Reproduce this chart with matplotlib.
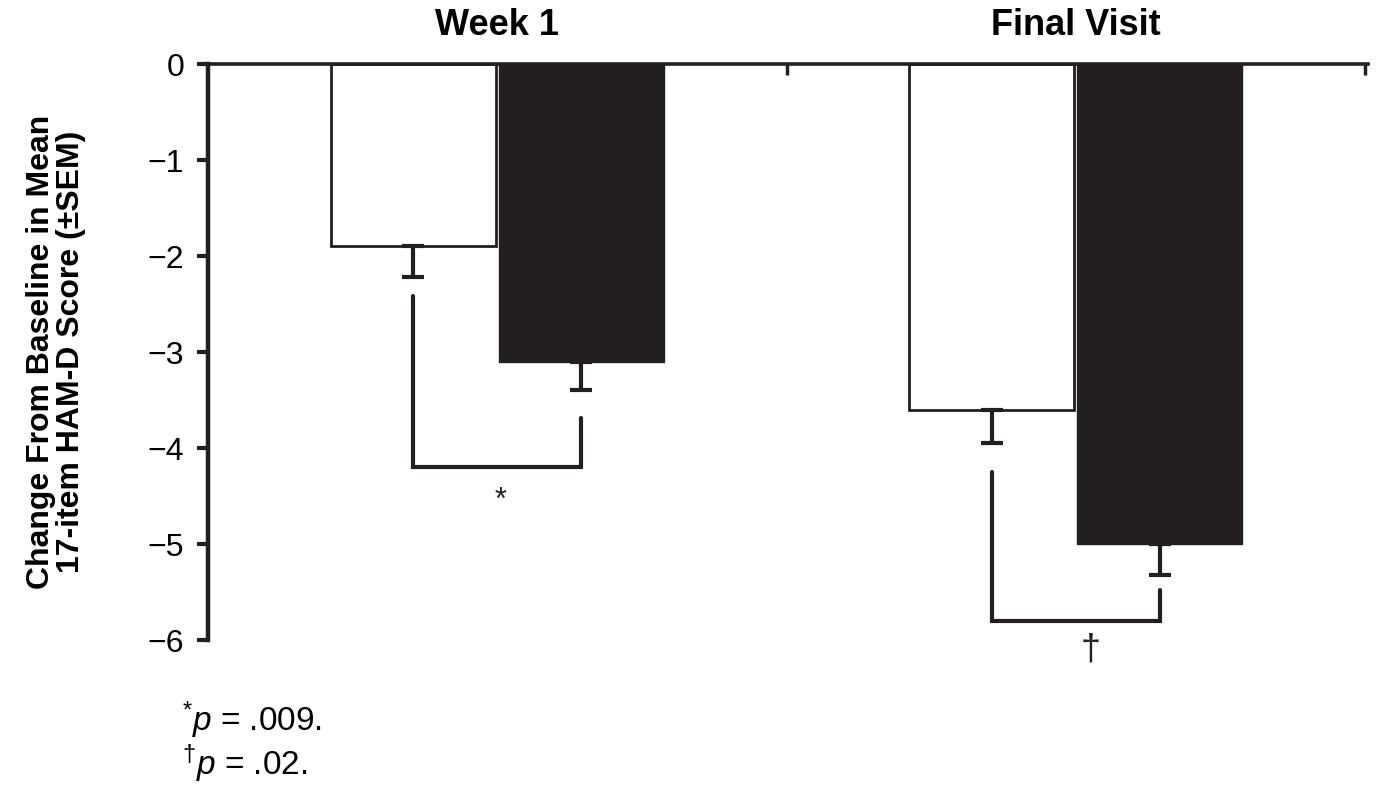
import matplotlib
matplotlib.use("Agg")
import matplotlib.pyplot as plt

plt.rcParams['font.family'] = ['Liberation Sans', 'DejaVu Sans']
plt.rcParams['mathtext.fontset'] = 'custom'
plt.rcParams['mathtext.rm'] = 'Liberation Sans'
plt.rcParams['mathtext.it'] = 'Liberation Sans:italic'
plt.rcParams['mathtext.sf'] = 'Liberation Sans'

# data
groups = ['Week 1', 'Final Visit']
placebo_mean = [-1.9, -3.6]
placebo_sem = [0.32, 0.35]
drug_mean = [-3.1, -5.0]
drug_sem = [0.30, 0.32]
bracket_left_top = [-2.42, -4.25]
bracket_right_top = [-3.69, -5.48]
bracket_bottom = [-4.2, -5.8]
sig_marks = ['*', '\u2020']

ink = '#231f20'
fig = plt.figure(figsize=(13.83, 7.92), dpi=100)
ax = fig.add_axes([208 / 1383, 1 - 640 / 792, 1160 / 1383, 576 / 792])

centers = [0.5, 1.5]
w = 0.285
off = 0.145
for i, c in enumerate(centers):
    xp = c - off
    xd = c + off
    ax.bar(xp, placebo_mean[i], width=w, color='white', edgecolor=ink, linewidth=2, zorder=2)
    ax.bar(xd, drug_mean[i], width=w, color=ink, edgecolor=ink, linewidth=1, zorder=2)
    ax.errorbar(xp, placebo_mean[i], yerr=[[placebo_sem[i]], [0]], fmt='none',
                ecolor=ink, elinewidth=3, capsize=8, capthick=3, zorder=3)
    ax.errorbar(xd, drug_mean[i], yerr=[[drug_sem[i]], [0]], fmt='none',
                ecolor=ink, elinewidth=3, capsize=8, capthick=3, zorder=3)
    # significance bracket
    ax.plot([xp, xp, xd, xd],
            [bracket_left_top[i], bracket_bottom[i], bracket_bottom[i], bracket_right_top[i]],
            color=ink, lw=3, solid_capstyle='round', solid_joinstyle='miter', zorder=3)

ax.text(0.505, -4.4, sig_marks[0], ha='center', va='top', fontsize=22, color=ink)
ax.text(1.525, -5.92, sig_marks[1], ha='center', va='top', fontsize=26, color=ink,
        clip_on=False)

ax.set_xlim(0, 2.005)
ax.set_ylim(-6, 0)

ax.spines['bottom'].set_visible(False)
ax.spines['right'].set_visible(False)
ax.spines['left'].set_linewidth(3.2)
ax.spines['top'].set_linewidth(2.6)
ax.spines['left'].set_color(ink)
ax.spines['top'].set_color(ink)

ax.set_yticks(range(-6, 1))
ax.set_yticklabels([f'{v}'.replace('-', '\u2212') for v in range(-6, 1)])
ax.tick_params(axis='y', direction='out', length=8, width=3, labelsize=23, pad=9, colors=ink)
ax.tick_params(axis='y', labelcolor='black')

ax.xaxis.tick_top()
ax.set_xticks([1, 2])
ax.set_xticklabels([])
ax.tick_params(axis='x', which='major', direction='in', length=8, width=2.5, colors=ink)
ax.set_xticks(centers, minor=True)
ax.set_xticklabels(groups, minor=True, fontsize=26, fontweight='bold')
ax.tick_params(axis='x', which='minor', length=0, pad=15, top=True, bottom=False,
               labeltop=True, labelbottom=False)

ax.set_ylabel('Change From Baseline in Mean\n17-item HAM-D Score (\u00b1SEM)',
              fontweight='bold', fontsize=23, linespacing=1.0)
ax.yaxis.set_label_coords(-122 / 1160, 0.5)

fig.text(182 / 1383, 1 - 720 / 792, r'$^{*}\mathit{p}$ = .009.', fontsize=24, va='center')
fig.text(182 / 1383, 1 - 764 / 792, r'$^{\dag}\mathit{p}$ = .02.', fontsize=24, va='center')

fig.savefig('out.png', dpi=100)
